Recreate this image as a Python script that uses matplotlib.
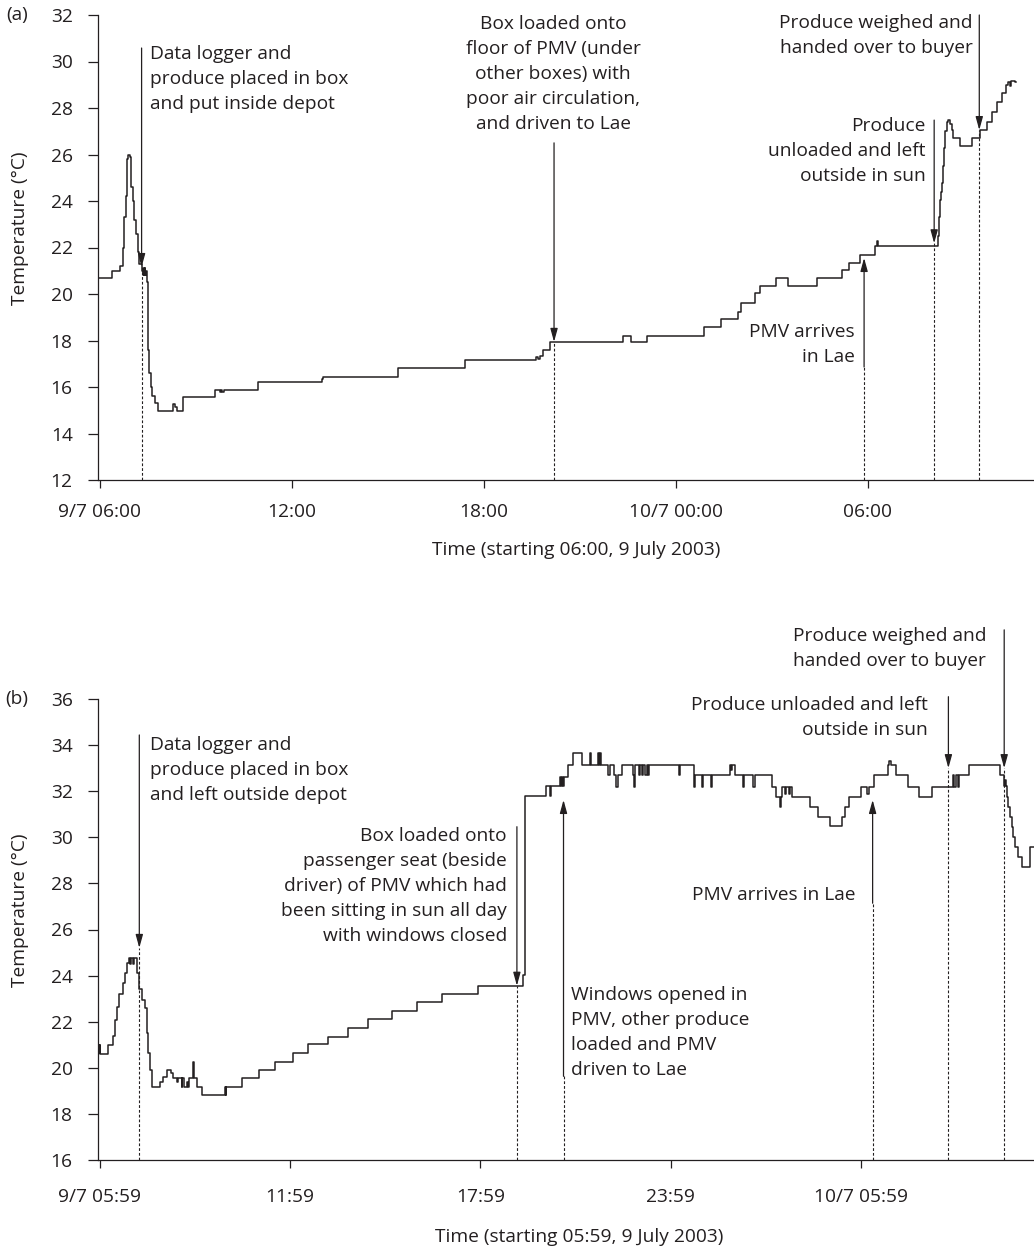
import matplotlib
matplotlib.use('Agg')
import matplotlib.pyplot as plt

plt.rcParams['font.family'] = ['Open Sans', 'DejaVu Sans']
INK = '#231f20'

# ---------------- Panel (a): hours since 06:00, 9 July 2003 ----------------
hours_a = [-0.06, 0.37, 0.62, 0.71, 0.76, 0.80, 0.83, 0.88, 0.94, 0.97, 1.02, 1.06,
           1.13, 1.18, 1.23, 1.30, 1.33, 1.36, 1.38, 1.40, 1.42, 1.44, 1.46, 1.49,
           1.51, 1.54, 1.58, 1.63, 1.72, 1.82, 2.29, 2.34, 2.40, 2.60, 3.59, 3.75,
           3.78, 3.82, 3.86, 4.95, 6.93, 6.98, 9.32, 11.41, 13.63, 13.69, 13.75, 13.84,
           14.05, 16.35, 16.60, 17.10, 18.87, 19.40, 19.94, 20.04, 20.47, 20.63, 21.12,
           21.49, 22.40, 23.20, 23.42, 23.74, 24.22, 24.27, 24.30, 26.19, 26.22, 26.25,
           26.28, 26.31, 26.34, 26.38, 26.41, 26.46, 26.50, 26.56, 26.62, 26.66, 26.88,
           27.24, 27.50, 27.71, 27.87, 28.02, 28.18, 28.31, 28.38, 28.44, 28.47, 28.59,
           28.62]
temp_a = [20.7, 21.0, 21.2, 22.0, 23.3, 24.2, 25.8, 26.0, 25.9, 24.6, 24.0, 23.2,
          22.6, 21.8, 21.3, 21.0, 20.8, 21.1, 20.8, 21.1, 20.8, 21.0, 20.5, 18.5,
          17.6, 16.6, 16.0, 15.6, 15.3, 14.95, 15.25, 15.15, 14.95, 15.55, 15.85, 15.8,
          15.85, 15.8, 15.85, 16.2, 16.35, 16.45, 16.8, 17.15, 17.3, 17.2, 17.35, 17.6,
          17.92, 18.2, 17.92, 18.19, 18.6, 18.92, 19.24, 19.6, 20.03, 20.34, 20.67,
          20.34, 20.67, 21.03, 21.32, 21.68, 22.06, 22.3, 22.06, 22.5, 23.3, 24.04,
          24.4, 24.76, 25.5, 26.3, 27.0, 27.4, 27.48, 27.3, 27.05, 26.7, 26.37,
          26.7, 27.05, 27.4, 27.84, 28.27, 28.63, 28.99, 29.13, 28.95, 29.15, 29.1,
          29.1]

# ---------------- Panel (b): hours since 05:59, 9 July 2003 ----------------
hours_b = [-0.06, -0.03, -0.01, 0.01, 0.26, 0.42, 0.47, 0.55, 0.61, 0.74, 0.79, 0.86,
           0.91, 0.95, 0.98, 1.04, 1.07, 1.16, 1.18, 1.24, 1.32, 1.42, 1.47, 1.52,
           1.58, 1.63, 1.89, 1.98, 2.10, 2.23, 2.31, 2.42, 2.46, 2.58, 2.60, 2.65,
           2.74, 2.77, 2.81, 2.94, 2.98, 3.05, 3.21, 3.94, 3.96, 3.98, 4.47, 5.03,
           5.52, 6.08, 6.55, 7.18, 7.81, 8.44, 9.20, 10.01, 10.80, 11.93, 13.35, 13.42,
           14.07, 14.20, 14.23, 14.50, 14.53, 14.56, 14.60, 14.63, 14.76, 14.92, 15.19,
           15.46, 15.50, 15.70, 15.73, 15.77, 15.80, 16.03, 16.10, 16.21, 16.27, 16.35,
           16.48, 16.80, 16.83, 16.87, 17.00, 17.03, 17.10, 17.14, 17.20, 17.24, 17.30,
           17.33, 18.25, 18.28, 18.74, 18.77, 19.00, 19.03, 19.27, 19.31, 19.86, 19.90,
           19.94, 20.02, 20.29, 20.32, 20.61, 20.66, 21.20, 21.31, 21.44, 21.47, 21.52,
           21.60, 21.65, 21.72, 21.77, 21.84, 22.38, 22.65, 23.02, 23.40, 23.51, 23.62,
           23.99, 24.20, 24.24, 24.42, 24.85, 24.90, 24.95, 25.12, 25.50, 25.82, 26.25,
           26.89, 26.93, 27.00, 27.05, 27.10, 27.23, 27.40, 28.39, 28.52, 28.56, 28.58,
           28.60, 28.65, 28.71, 28.76, 28.81, 28.86, 28.97, 29.07, 29.34, 29.46]
temp_b = [21.0, 20.63, 21.0, 20.6, 21.0, 21.4, 22.07, 22.65, 23.2, 23.66, 24.1, 24.53,
          24.75, 24.5, 24.75, 24.5, 24.75, 24.5, 24.1, 23.4, 22.94, 22.58, 21.5, 20.63,
          19.9, 19.18, 19.4, 19.62, 19.9, 19.76, 19.55, 19.4, 19.55, 19.18, 19.55, 19.18,
          19.4, 19.18, 19.55, 20.27, 19.55, 19.18, 18.82, 19.18, 18.82, 19.18, 19.55, 19.9,
          20.27, 20.63, 21.02, 21.35, 21.74, 22.12, 22.48, 22.87, 23.2, 23.56, 24.03, 31.81,
          32.24, 31.81, 32.24, 32.63, 32.24, 32.63, 32.24, 32.63, 33.14, 33.64, 33.14,
          33.64, 33.14, 33.64, 33.14, 33.64, 33.14, 32.7, 33.14, 32.7, 32.2, 32.7,
          33.14, 32.7, 32.2, 33.14, 32.7, 33.14, 32.7, 33.14, 32.7, 33.14, 32.7,
          33.14, 32.7, 33.14, 32.2, 32.7, 32.2, 32.7, 32.2, 32.7, 33.14, 32.9,
          33.14, 32.7, 32.2, 32.7, 32.2, 32.7, 32.2, 31.76, 31.33, 31.76, 32.2,
          31.9, 32.2, 31.9, 32.2, 31.76, 31.33, 30.9, 30.5, 30.9, 31.33, 31.76,
          32.2, 31.9, 32.2, 32.7, 33.14, 33.3, 33.14, 32.7, 32.2, 31.76, 32.2,
          32.7, 32.2, 32.7, 32.2, 32.7, 32.7, 33.14, 32.7, 32.23, 32.5, 32.23,
          31.77, 31.33, 30.9, 30.46, 30.03, 29.6, 29.16, 28.73, 29.6, 29.6]

# ---------------- Axes ----------------
xtick_hours = [0, 6, 12, 18, 24]
xtick_labels_a = ['9/7 06:00', '12:00', '18:00', '10/7 00:00', '06:00']
xtick_labels_b = ['9/7 05:59', '11:59', '17:59', '23:59', '10/7 05:59']
yticks_a = list(range(12, 33, 2))
yticks_b = list(range(16, 37, 2))
xlabel_a = 'Time (starting 06:00, 9 July 2003)'
xlabel_b = 'Time (starting 05:59, 9 July 2003)'
ylabel = 'Temperature (°C)'

# ---------------- Events: (x, arrow tail, arrow tip, text, text x, text y, align) ----------------
events_a = [
    (1.30, 30.58, 21.16, 'Data logger and\nproduce placed in box\nand put inside depot', 1.56, 29.26, 'left'),
    (14.19, 26.5, 17.94, 'Box loaded onto\nfloor of PMV (under\nother boxes) with\npoor air circulation,\nand driven to Lae', 14.16, 29.46, 'center'),
    (23.88, 16.86, 21.55, 'PMV arrives\nin Lae', 23.58, 17.81, 'right'),
    (26.07, 27.48, 22.18, 'Produce\nunloaded and left\noutside in sun', 25.81, 26.15, 'right'),
    (27.48, 32.0, 27.05, 'Produce weighed and\nhanded over to buyer', 27.27, 31.12, 'right'),
]
events_b = [
    (1.24, 34.44, 25.2, 'Data logger and\nproduce placed in box\nand left outside depot', 1.58, 32.92, 'left'),
    (13.15, 30.46, 23.56, 'Box loaded onto\npassenger seat (beside\ndriver) of PMV which had\nbeen sitting in sun all day\nwith windows closed', 12.83, 27.89, 'right'),
    (14.62, 19.63, 31.62, 'Windows opened in\nPMV, other produce\nloaded and PMV\ndriven to Lae', 14.86, 21.52, 'left'),
    (24.37, 27.14, 31.62, 'PMV arrives in Lae', 23.82, 27.5, 'right'),
    (26.76, 36.1, 33.0, 'Produce unloaded and left\noutside in sun', 26.12, 35.18, 'right'),
    (28.52, 39.0, 33.0, 'Produce weighed and\nhanded over to buyer', 27.95, 38.19, 'right'),
]

W, H = 1034, 1249
fig = plt.figure(figsize=(W / 100, H / 100), dpi=100)
FS = 13.8


def px(x, y):
    return x / W, 1 - y / H


def make_panel(rect, hours, temps, yticks, xlabels, xlim, events, xpad):
    ax = fig.add_axes(rect)
    ax.plot(hours, temps, drawstyle='steps-post', color=INK, lw=1.1, zorder=3)
    ax.set_xlim(*xlim)
    ax.set_ylim(yticks[0], yticks[-1])
    ax.set_yticks(yticks)
    ax.set_xticks(xtick_hours)
    ax.set_xticklabels(xlabels)
    for s in ('top', 'right'):
        ax.spines[s].set_visible(False)
    for s in ('left', 'bottom'):
        ax.spines[s].set_color(INK)
        ax.spines[s].set_linewidth(0.9)
    ax.tick_params(axis='y', direction='out', length=7.2, width=0.9, color=INK,
                   labelsize=FS, labelcolor=INK, pad=11.0)
    ax.tick_params(axis='x', direction='out', length=5.8, width=0.9, color=INK,
                   labelsize=FS, labelcolor=INK, pad=xpad)
    y0 = yticks[0]
    for (x, tail, tip, txt, tx, ty, ha) in events:
        ax.plot([x, x], [y0, min(tail, tip)], color=INK, lw=0.8,
                linestyle=(0, (2.5, 1.8)), zorder=2)
        ax.annotate('', xy=(x, tip), xytext=(x, tail), annotation_clip=False,
                    arrowprops=dict(arrowstyle='-|>,head_length=0.8,head_width=0.22',
                                    color=INK, lw=0.9, shrinkA=0, shrinkB=0,
                                    mutation_scale=10))
        ax.text(tx, ty, txt, ha=ha, va='center', multialignment=ha, fontsize=FS,
                color=INK, linespacing=1.5, clip_on=False)
    return ax


ax_a = make_panel([98 / W, 1 - 480 / H, (W - 98) / W, 465 / H], hours_a, temp_a,
                  yticks_a, xtick_labels_a, (-0.0625, 29.19), events_a, 10.5)
ax_b = make_panel([98 / W, 1 - 1160 / H, (W - 98) / W, 461 / H], hours_b, temp_b,
                  yticks_b, xtick_labels_b, (-0.063, 29.46), events_b, 14)

fig.text(*px(576, 550), xlabel_a, ha='center', va='center', fontsize=FS, color=INK)
fig.text(*px(579, 1237), xlabel_b, ha='center', va='center', fontsize=FS, color=INK)
fig.text(*px(20, 228), ylabel, ha='center', va='center', rotation=90, fontsize=FS, color=INK)
fig.text(*px(20, 910), ylabel, ha='center', va='center', rotation=90, fontsize=FS, color=INK)
fig.text(*px(17, 15), '(a)', ha='center', va='center', fontsize=FS, color=INK)
fig.text(*px(17, 699), '(b)', ha='center', va='center', fontsize=FS, color=INK)

fig.savefig('out.png', dpi=100, facecolor='white')
